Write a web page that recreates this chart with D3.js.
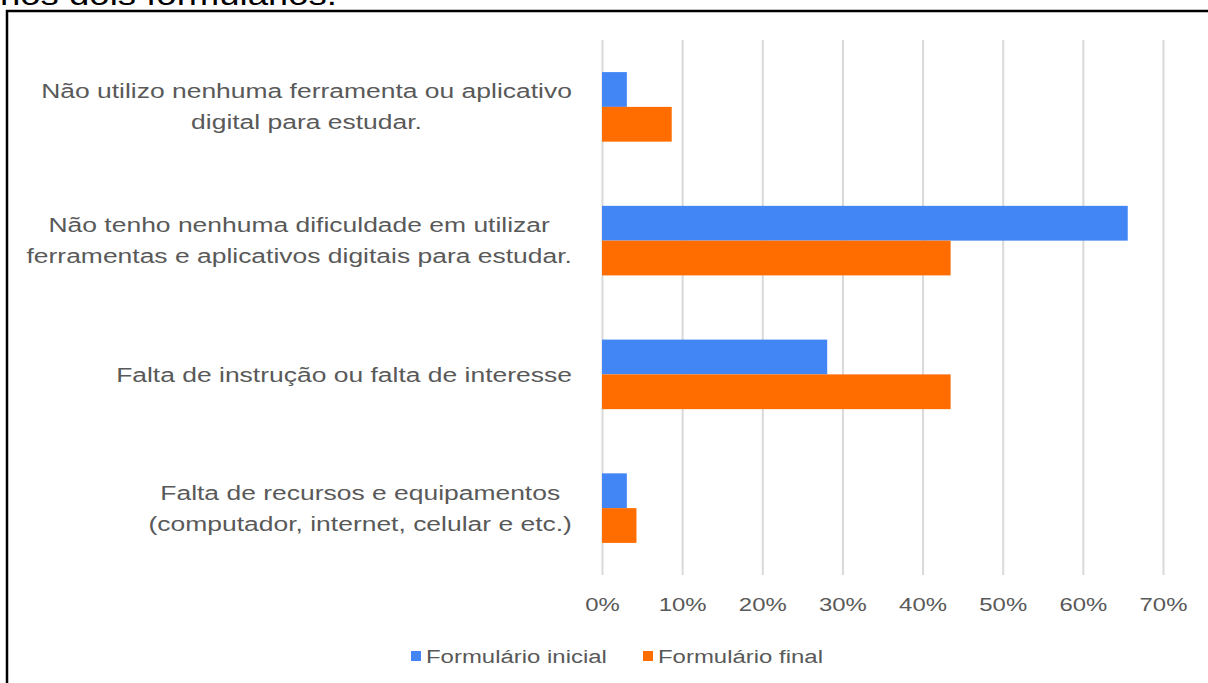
<!DOCTYPE html>
<html lang="pt">
<head>
<meta charset="utf-8">
<script src="https://d3js.org/d3.v7.min.js"></script>
<style>
  body { margin: 0; background: #fff; }
  svg { display: block; font-family: "Liberation Sans", Arial, sans-serif; }
</style>
</head>
<body>
<div id="chart"></div>
<script>
// categorias (de cima para baixo), quebras de linha como no original
var categories = [
  "Não utilizo nenhuma ferramenta ou aplicativo\ndigital para estudar.",
  "Não tenho nenhuma dificuldade em utilizar\nferramentas e aplicativos digitais para estudar.",
  "Falta de instrução ou falta de interesse",
  "Falta de recursos e equipamentos\n(computador, internet, celular e etc.)"
];
var seriesNames = ["Formulário inicial", "Formulário final"];
var inicial = [0.031, 0.656, 0.281, 0.031];
var final = [0.087, 0.435, 0.435, 0.043];
var xTicks = [0, 0.1, 0.2, 0.3, 0.4, 0.5, 0.6, 0.7];
var colors = ["#4285f4", "#ff6d01"];

(function() {
  var width = 1208, height = 683;
  var sx = 1.26; // texto do original aparece esticado na horizontal

  var svg = d3.select("#chart").append("svg")
      .attr("width", width)
      .attr("height", height);

  // resto da frase do documento, cortada no topo
  svg.append("text")
      .attr("transform", "translate(0,5) scale(" + sx + ",1)")
      .attr("font-size", 29)
      .attr("fill", "#000")
      .text("nos dois formulários.");

  // moldura
  svg.append("rect")
      .attr("x", 7).attr("y", 11)
      .attr("width", 1400).attr("height", 900)
      .attr("fill", "none")
      .attr("stroke", "#000")
      .attr("stroke-width", 2.5);

  var plotTop = 40, plotBottom = 575;

  var x = d3.scaleLinear().domain([0, 0.7]).range([602, 1163]);
  var y = d3.scaleBand().domain(categories).range([plotTop, plotBottom])
      .paddingInner(0.48).paddingOuter(0.24);
  var y1 = d3.scaleBand().domain(seriesNames).range([0, y.bandwidth()]);

  // grade + rótulos do eixo
  var axis = svg.append("g")
      .attr("transform", "translate(0," + plotBottom + ")")
      .call(d3.axisBottom(x)
          .tickValues(xTicks)
          .tickFormat(d3.format(".0%"))
          .tickSize(-(plotBottom - plotTop))
          .tickPadding(22.5));
  axis.select(".domain").remove();
  axis.selectAll(".tick line")
      .attr("stroke", "#d9d9d9")
      .attr("stroke-width", 2);
  axis.selectAll(".tick text")
      .attr("fill", "#595959")
      .attr("font-size", 19)
      .attr("font-family", "Liberation Sans, Arial, sans-serif")
      .attr("transform", "scale(" + sx + ",1)");

  // barras
  var series = [inicial, final];
  series.forEach(function(vals, s) {
    svg.append("g").selectAll("rect")
      .data(vals)
      .enter().append("rect")
      .attr("x", x(0))
      .attr("y", function(d, i) { return y(categories[i]) + y1(seriesNames[s]); })
      .attr("width", function(d) { return x(d) - x(0); })
      .attr("height", y1.bandwidth())
      .attr("fill", colors[s]);
  });

  // rótulos das categorias: bloco alinhado à direita, linhas centralizadas
  var labelRight = 572;
  categories.forEach(function(c) {
    var lines = c.split("\n");
    var cy = y(c) + y.bandwidth() / 2;
    var g = svg.append("g");
    var texts = lines.map(function(l, k) {
      var base = lines.length === 1 ? cy + 7.5 : cy - 8.5 + k * 31;
      return g.append("text")
          .attr("font-size", 21)
          .attr("fill", "#595959")
          .attr("text-anchor", "middle")
          .attr("data-y", base)
          .text(l);
    });
    var maxW = d3.max(texts, function(t) { return t.node().getComputedTextLength() * sx; });
    var cx = labelRight - maxW / 2;
    texts.forEach(function(t) {
      t.attr("transform", "translate(" + cx + "," + t.attr("data-y") + ") scale(" + sx + ",1)");
    });
  });

  // legenda
  var legendX = [411, 643];
  seriesNames.forEach(function(n, s) {
    svg.append("rect")
        .attr("x", legendX[s]).attr("y", 651)
        .attr("width", 10).attr("height", 10)
        .attr("fill", colors[s]);
    svg.append("text")
        .attr("transform", "translate(" + (legendX[s] + 15) + ",663) scale(" + sx + ",1)")
        .attr("font-size", 19)
        .attr("fill", "#595959")
        .text(n);
  });
})();
</script>
</body>
</html>
